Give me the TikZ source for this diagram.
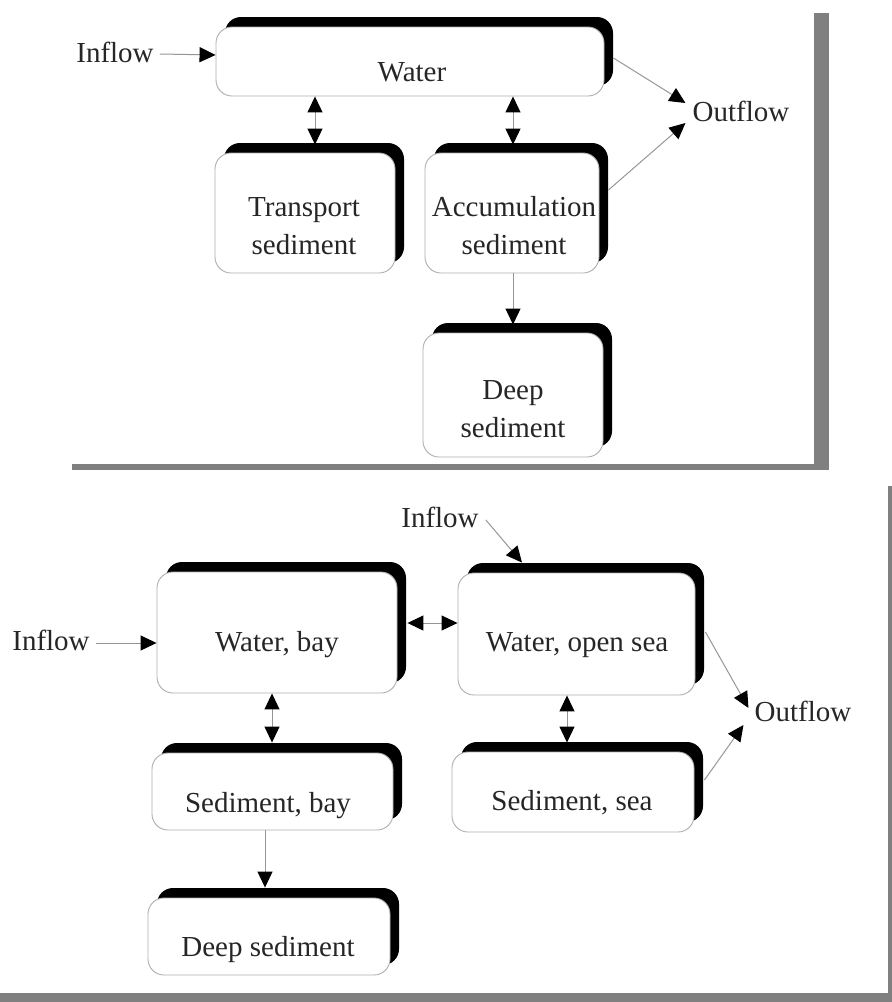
\documentclass[tikz,border=0pt]{standalone}
\usepackage{fontspec}
\setmainfont{Liberation Serif}
\usetikzlibrary{arrows.meta,shadows}

\definecolor{framegray}{RGB}{128,128,128}
\definecolor{edgegray}{RGB}{175,175,175}
\definecolor{linkgray}{RGB}{150,150,150}

\tikzset{
  compartment/.style={
    draw=edgegray, line width=0.9pt, fill=white,
    rounded corners=16pt, inner sep=0pt,
    general shadow={fill=black, shadow xshift=9pt, shadow yshift=10pt}
  },
  caption/.style={
    font=\fontsize{29}{38}\selectfont, text=black!85,
    align=center, inner sep=2pt
  },
  flow/.style={draw=linkgray, line width=1pt, -{Triangle[length=16pt,width=15pt,color=black]}},
  exchange/.style={draw=linkgray, line width=1pt,
    {Triangle[length=16pt,width=15pt,color=black]}-{Triangle[length=16pt,width=15pt,color=black]}},
  bar/.style={fill=framegray, draw=none}
}

\begin{document}
\begin{tikzpicture}[x=1pt, y=-1pt]
  \useasboundingbox (0,0) rectangle (892,1002);

  % ---------- first model: water with three sediment layers ----------
  \fill[bar] (814,13) rectangle (829,470);
  \fill[bar] (72,464) rectangle (829,470);

  \node[compartment, minimum width=388pt, minimum height=69pt] (water) at (410,61.5) {};
  \node[compartment, minimum width=180pt, minimum height=120pt] (trans) at (305,213) {};
  \node[compartment, minimum width=174pt, minimum height=120pt] (accum) at (512,213) {};
  \node[compartment, minimum width=180pt, minimum height=124pt] (deepA) at (513,395) {};

  \node[caption] (waterT) at (412,72) {Water};
  \node[caption] (transT) at (304,226) {Transport\\sediment};
  \node[caption] (accumT) at (514,226) {Accumulation\\sediment};
  \node[caption] (deepAT) at (513,409) {Deep\\sediment};

  \node[caption] (inA) at (115,52) {Inflow};
  \node[caption] (outA) at (741,111) {Outflow};

  \draw[flow] ([xshift=4pt,yshift=-2pt]inA.east) -- ([yshift=6.5pt]water.west);
  \draw[exchange] ([xshift=-95pt]water.south) -- ([xshift=10pt,yshift=8pt]trans.north);
  \draw[exchange] ([xshift=103pt]water.south) -- ([xshift=1pt,yshift=8pt]accum.north);
  \draw[flow] ([xshift=1pt]accum.south) -- ([yshift=8pt]deepA.north);
  \draw[flow] ([xshift=9pt,yshift=3.5pt]water.east) -- ([xshift=-5pt,yshift=8pt]outA.west);
  \draw[flow] ([xshift=9pt,yshift=23pt]accum.east) -- ([xshift=-5pt,yshift=-12pt]outA.west);

  % ---------- second model: bay and open sea ----------
  \fill[bar] (888,486) rectangle (892,1002);
  \fill[bar] (0,993) rectangle (892,1002);

  \node[compartment, minimum width=240pt, minimum height=121pt] (wbay) at (277,632.5) {};
  \node[compartment, minimum width=237pt, minimum height=122pt] (wsea) at (576.5,634) {};
  \node[compartment, minimum width=241pt, minimum height=77pt] (sbay) at (272.5,791.5) {};
  \node[compartment, minimum width=242pt, minimum height=80pt] (ssea) at (573,792) {};
  \node[compartment, minimum width=242pt, minimum height=77pt] (deepB) at (269,936.5) {};

  \node[caption] (wbayT) at (277,645) {Water, bay};
  \node[caption] (wseaT) at (577,645) {Water, open sea};
  \node[caption] (sbayT) at (268,806) {Sediment, bay};
  \node[caption] (sseaT) at (572,803) {Sediment, sea};
  \node[caption] (deepBT) at (268,950) {Deep sediment};

  \node[caption] (inB) at (51,640) {Inflow};
  \node[caption] (inC) at (440,517) {Inflow};
  \node[caption] (outB) at (803,711) {Outflow};

  \draw[flow] ([xshift=4pt,yshift=-3pt]inB.east) -- ([yshift=-10.5pt]wbay.west);
  \draw[flow] ([xshift=5pt,yshift=-3pt]inC.east) -- ([xshift=-54.5pt,yshift=10pt]wsea.north);
  \draw[exchange] ([xshift=10pt,yshift=9.5pt]wbay.east) -- ([yshift=11pt]wsea.west);
  \draw[exchange] ([xshift=-5pt]wbay.south) -- ([xshift=-0.5pt,yshift=10pt]sbay.north);
  \draw[exchange] ([xshift=-9.5pt]wsea.south) -- ([xshift=-6pt,yshift=9pt]ssea.north);
  \draw[flow] ([xshift=-7.5pt]sbay.south) -- ([xshift=-4pt,yshift=10pt]deepB.north);
  \draw[flow] ([xshift=10pt,yshift=2pt]wsea.east) -- ([xshift=-4pt,yshift=3pt]outB.west);
  \draw[flow] ([xshift=10pt,yshift=12pt]ssea.east) -- ([xshift=-9pt,yshift=-14pt]outB.west);
\end{tikzpicture}
\end{document}
